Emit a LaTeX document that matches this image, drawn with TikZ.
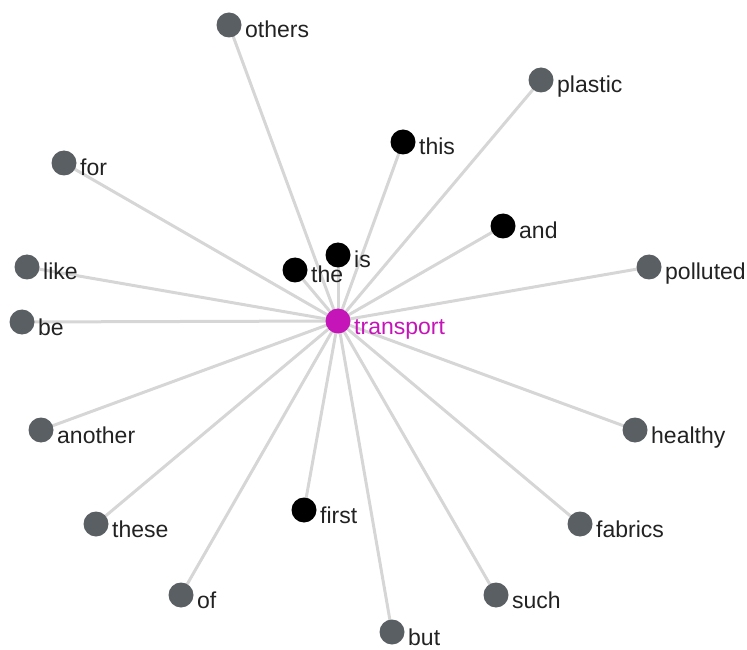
\documentclass[tikz,border=0pt]{standalone}
\usepackage{fontspec}
\setmainfont{Liberation Sans}
\definecolor{edgec}{HTML}{D6D6D6}
\definecolor{grayn}{HTML}{5A5F63}
\definecolor{magn}{HTML}{C514B8}
\definecolor{txt}{HTML}{222222}
\begin{document}
\begin{tikzpicture}[x=1pt,y=1pt,
  dot/.style={circle,inner sep=0pt,minimum size=25pt,fill=grayn},
  blk/.style={circle,inner sep=0pt,minimum size=25pt,fill=black},
  hub/.style={circle,inner sep=0pt,minimum size=25pt,fill=magn},
  lbl/.style={anchor=base west,inner sep=0pt,text=txt,font=\fontsize{23}{27}\selectfont},
  edge/.style={draw=edgec,line width=3pt}]
\useasboundingbox (0,0) rectangle (747,649);
% centres (image coords converted: y = 649 - y_img)
\coordinate (c) at (338,328);
\foreach \n/\x/\y in {others/229/624, plastic/541/569, this/403/507, for/64/486,
  and/503/423, is/338/394, the/295/379, like/27/382, polluted/649/382, be/22/327,
  another/41/219, healthy/635/219, these/96/125, first/304/139, fabrics/580/125,
  of/181/54, such/496/54, but/392/17}
  {\coordinate (\n) at (\x,\y);}
% edges
\foreach \n in {others,plastic,this,for,and,is,the,like,polluted,be,another,healthy,these,first,fabrics,of,such,but}
  {\draw[edge] (c) -- (\n);}
% nodes
\foreach \n in {others,plastic,for,like,polluted,be,another,healthy,these,fabrics,of,such,but}
  {\node[dot] (\n-n) at (\n) {};}
\foreach \n in {this,and,is,the,first}
  {\node[blk] (\n-n) at (\n) {};}
\node[hub] (hub) at (c) {};
% labels
\foreach \n in {others,plastic,this,for,and,is,the,like,polluted,be,another,healthy,these,first,fabrics,of,such,but}
  {\node[lbl] (\n-t) at ([shift={(16pt,-13pt)}]\n) {\n};}
\node[lbl,text=magn] (hub-t) at ([shift={(16pt,-13.5pt)}]c) {transport};
\end{tikzpicture}
\end{document}
